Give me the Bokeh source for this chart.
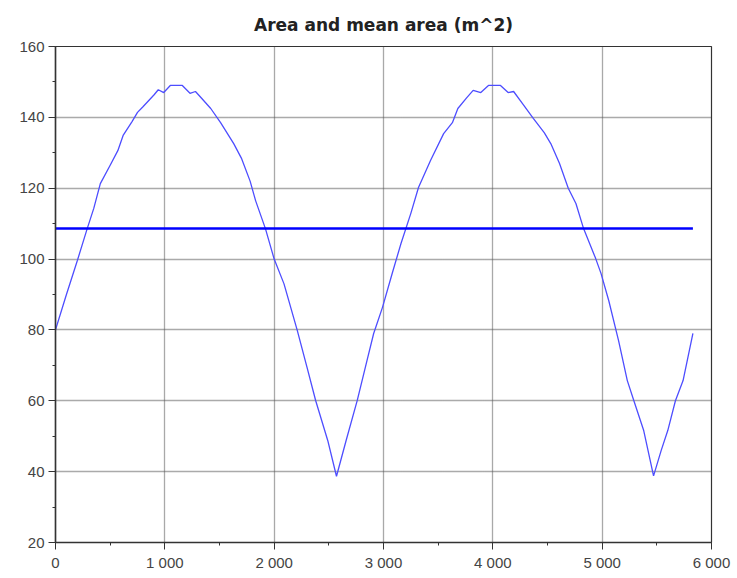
from bokeh.plotting import figure
from bokeh.models import Range1d, FixedTicker
from bokeh.embed import file_html
from bokeh.resources import INLINE

# Data
x_vals = [0, 100, 200, 290, 350, 410, 500, 570, 620, 700, 750, 800, 900, 940, 990,
          1050, 1160, 1230, 1280, 1330, 1420, 1510, 1630, 1700, 1780, 1830, 1920,
          2000, 2090, 2210, 2300, 2380, 2490, 2570, 2660, 2760, 2850, 2910, 2990,
          3080, 3160, 3250, 3320, 3430, 3550, 3630, 3680, 3760, 3820, 3890, 3960,
          4070, 4140, 4190, 4280, 4370, 4470, 4530, 4610, 4690, 4760, 4830, 4940,
          4990, 5060, 5150, 5230, 5290, 5380, 5470, 5540, 5600, 5670, 5740, 5830]
area = [80, 90, 99.6, 108.6, 114.3, 121.3, 126.5, 130.6, 135, 138.8, 141.4, 143, 146.3, 147.8, 147,
        149, 149, 146.8, 147.3, 145.6, 142.5, 138.5, 132.6, 128.5, 122, 116.5, 108.6,
        100, 93, 80, 69.5, 60, 48.8, 38.7, 49, 60.1, 71.5, 79, 86.3,
        96, 104.4, 112.9, 120.2, 127.8, 135.4, 138.5, 142.5, 145.5, 147.6, 147, 149,
        149, 147, 147.3, 143.5, 139.7, 135.7, 132.6, 127, 120, 115.7, 108.6, 100.2,
        95.9, 88.3, 77, 65.7, 60, 51.6, 38.8, 46, 51.6, 60, 65.7, 79]
mean_x = [0, 5830]
mean_area = [108.6, 108.6]

x_ticks = [0, 1000, 2000, 3000, 4000, 5000, 6000]
x_tick_labels = ["0", "1 000", "2 000", "3 000", "4 000", "5 000", "6 000"]
y_ticks = [20, 40, 60, 80, 100, 120, 140, 160]
title_text = "Area and mean area (m^2)"

p = figure(width=737, height=578, output_backend="svg", toolbar_location=None,
           x_range=Range1d(0, 6000), y_range=Range1d(20, 160),
           min_border_left=55, min_border_right=26, min_border_top=46,
           min_border_bottom=36, title=title_text)

p.title.align = "center"
p.title.text_font = "DejaVu Sans"
p.title.text_font_size = "17px"
p.title.text_font_style = "bold"
p.title.text_color = "#222222"
p.title.standoff = 24

p.line(x_vals, area, line_color="#4d4dff", line_width=1.3)
p.line(mean_x, mean_area, line_color="#0000ff", line_width=2.5)

p.xaxis.ticker = FixedTicker(ticks=x_ticks, minor_ticks=[v + 500 for v in x_ticks[:-1]])
p.yaxis.ticker = FixedTicker(ticks=y_ticks, minor_ticks=[v + 10 for v in y_ticks[:-1]])
p.xaxis.major_label_overrides = {t: l for t, l in zip(x_ticks, x_tick_labels)}

for ax in (p.xaxis, p.yaxis):
    ax.axis_line_color = "#333333"
    ax.axis_line_width = 1.5
    ax.major_tick_line_color = "#333333"
    ax.minor_tick_line_color = "#333333"
    ax.major_tick_out = 7
    ax.major_tick_in = 0
    ax.minor_tick_out = 3
    ax.minor_tick_in = 0
    ax.major_label_text_font = "Liberation Sans"
    ax.major_label_text_font_size = "15px"
    ax.major_label_text_color = "#444444"
p.yaxis.major_label_standoff = 4
p.xaxis.major_label_standoff = 4

p.outline_line_color = "#333333"
p.outline_line_width = 1.2

p.xgrid.ticker = FixedTicker(ticks=x_ticks)
p.ygrid.ticker = FixedTicker(ticks=y_ticks)
p.grid.grid_line_color = "#555555"
p.grid.grid_line_dash = "1 1"
p.grid.grid_line_width = 1.3

open("out.html", "w").write(file_html(p, INLINE))
